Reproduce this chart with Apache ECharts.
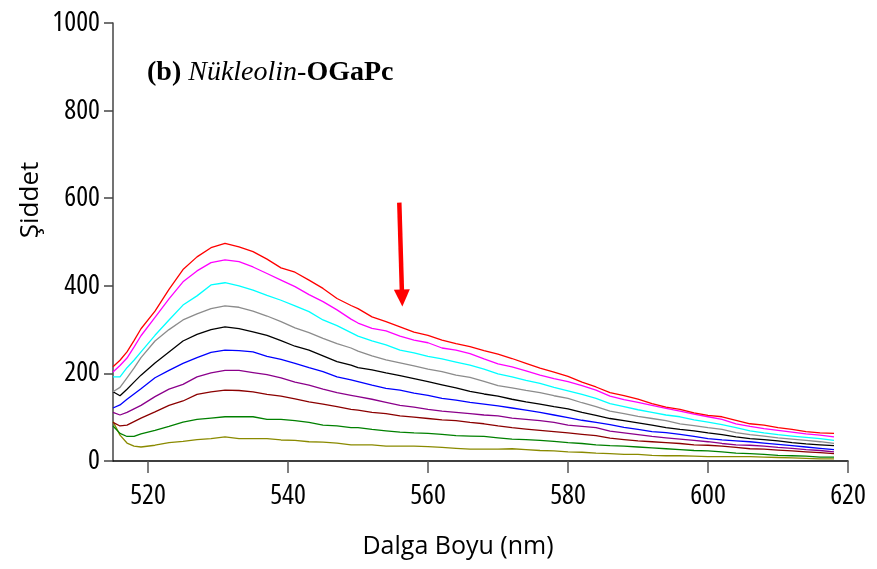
<!DOCTYPE html>
<html><head><meta charset="utf-8">
<script src="https://cdn.jsdelivr.net/npm/echarts@6/dist/echarts.min.js"></script>
<style>html,body{margin:0;padding:0;background:#fff}#c{width:877px;height:569px}</style>
</head><body><div id="c"></div>
<script>
const wavelengths = [515,516,517,518,519,521,523,525,527,529,531,533,535,537,539,541,543,545,547,549,550,552,554,556,558,560,562,564,566,568,570,572,574,576,578,580,582,584,586,588,590,592,594,596,598,600,602,604,606,608,610,612,614,616,618];
const sRed     = [215,230,249,275,302,342,392,437,466,487,497,489,478,461,441,431,413,394,371,355,348,329,318,306,294,287,276,268,261,252,244,234,223,212,203,193,180,169,156,149,141,131,123,118,110,104,101,93,85,82,76,72,67,64,63];
const sMagenta = [203,218,235,260,286,328,370,409,434,453,459,455,443,428,413,398,380,364,345,324,315,303,297,285,276,270,258,253,245,233,222,215,206,196,188,181,172,162,148,140,134,127,120,114,107,101,95,85,79,74,70,66,62,59,55];
const sCyan    = [192,192,213,230,249,287,322,356,377,402,407,400,390,378,367,354,341,322,309,293,285,274,265,253,247,239,233,226,219,210,199,192,184,177,168,160,152,143,131,124,117,111,105,101,94,89,83,76,69,64,60,57,54,51,47];
const sGray    = [158,168,190,212,236,274,300,322,336,348,354,351,342,331,318,304,293,280,268,258,251,240,231,224,217,210,204,196,191,182,172,167,161,156,149,143,133,124,114,108,102,97,92,85,81,76,72,65,60,57,53,50,47,44,40];
const sBlack   = [158,149,164,180,196,224,249,274,289,300,306,302,295,287,275,262,253,240,227,219,213,208,201,195,188,181,174,167,159,153,148,141,135,130,124,119,111,104,97,92,87,82,76,72,69,64,60,55,51,49,46,42,39,37,35];
const sBlue    = [121,128,141,153,165,190,207,223,236,248,253,252,249,239,232,223,213,204,192,185,181,173,166,162,155,150,143,139,134,130,126,121,116,111,105,99,93,88,83,77,72,67,65,61,56,51,48,46,44,41,38,35,32,29,26];
const sPurple  = [111,105,111,119,127,147,164,175,192,201,207,207,202,197,190,180,173,164,156,150,147,141,134,127,123,118,114,111,108,105,103,98,95,92,88,82,79,76,68,64,60,56,53,50,47,44,40,37,36,34,31,29,26,24,21];
const sDarkred = [88,80,82,90,98,112,127,137,152,158,162,161,158,152,148,142,135,130,124,118,116,111,108,103,100,97,94,92,88,85,80,76,73,70,67,64,61,58,52,49,46,44,42,40,37,36,34,31,28,27,25,23,21,19,17];
const sGreen   = [80,63,56,56,62,70,79,89,95,98,101,101,101,95,95,92,88,82,80,76,76,72,69,66,64,63,61,58,57,56,53,50,49,47,45,42,40,37,35,34,32,30,28,26,24,23,21,18,17,15,13,12,11,9,9];
const sOlive   = [90,59,41,34,32,36,42,45,49,51,55,51,51,51,48,47,44,43,41,37,37,37,34,34,34,33,31,29,27,27,27,28,26,24,23,21,20,18,17,15,15,13,12,12,11,10,10,10,10,9,8,7,6,5,5];
const xTicks = [520,540,560,580,600,620];
const yTicks = [0,200,400,600,800,1000];
const arrowStart = [555.9, 590];
const arrowEnd = [556.3, 372];

const seriesDefs = [
  ['olive', sOlive, '#8a8a00'],
  ['green', sGreen, '#008000'],
  ['darkred', sDarkred, '#8b0000'],
  ['purple', sPurple, '#8b008b'],
  ['blue', sBlue, '#0000ff'],
  ['black', sBlack, '#000000'],
  ['gray', sGray, '#8c8c8c'],
  ['cyan', sCyan, '#00ffff'],
  ['magenta', sMagenta, '#ff00ff'],
  ['red', sRed, '#ff0000']
];
const tickFont = '"Open Sans",sans-serif';
const chart = echarts.init(document.getElementById('c'));
const series = seriesDefs.map(([name, arr, color]) => ({
  name, type: 'line', showSymbol: false, symbol: 'none', animation: false,
  data: wavelengths.map((w, i) => [w, arr[i]]),
  lineStyle: { color, width: 1.3 },
  emphasis: { disabled: true },
  z: 2
}));
series[series.length - 1].markLine = {
  silent: true, animation: false,
  symbol: ['none', 'triangle'], symbolSize: [16, 17],
  label: { show: false },
  lineStyle: { color: '#ff0000', width: 4.5, type: 'solid' },
  emphasis: { disabled: true },
  data: [[{ coord: arrowStart }, { coord: arrowEnd }]]
};
chart.setOption({
  backgroundColor: '#ffffff',
  animation: false,
  grid: { left: 113, right: 29, top: 23, bottom: 108, containLabel: false },
  xAxis: {
    type: 'value', min: 515, max: 620,
    axisLine: { show: true, onZero: false, lineStyle: { color: '#000', width: 1.5 } },
    axisTick: { show: true, length: 12, customValues: xTicks, lineStyle: { color: '#555', width: 1.5 } },
    axisLabel: { customValues: xTicks, fontStyle: 'condensed', fontFamily: tickFont, fontSize: 28, color: '#000', margin: 21 },
    splitLine: { show: false }
  },
  yAxis: {
    type: 'value', min: 0, max: 1000, interval: 200,
    axisLine: { show: true, lineStyle: { color: '#444', width: 1.5 } },
    axisTick: { show: true, length: 9, lineStyle: { color: '#444', width: 1.5 } },
    axisLabel: { fontStyle: 'condensed', fontFamily: tickFont, fontSize: 28, color: '#000', margin: 13, formatter: v => String(v) },
    splitLine: { show: false }
  },
  graphic: [
    { type: 'text', left: 147, top: 59, z: 10, style: {
      text: '{b|(b)} {i|Nükleolin-}{b|OGaPc}',
      rich: {
        b: { fontFamily: '"Liberation Serif","Times New Roman",serif', fontWeight: 'bold', fontSize: 28, fill: '#000' },
        i: { fontFamily: '"Liberation Serif","Times New Roman",serif', fontStyle: 'italic', fontSize: 28, fill: '#000' }
      },
      font: '28px "Liberation Serif",serif', fill: '#000' } },
    { type: 'text', x: 458, y: 547, z: 10, style: {
      text: 'Dalga Boyu (nm)', font: '25px "Open Sans",sans-serif', fill: '#000',
      textAlign: 'center', textVerticalAlign: 'middle' } },
    { type: 'text', x: 31, y: 200, rotation: Math.PI / 2, z: 10, style: {
      text: 'Şiddet', font: '26px "Open Sans",sans-serif', fill: '#000',
      textAlign: 'center', textVerticalAlign: 'middle' } }
  ],
  series
});
</script>
</body></html>
